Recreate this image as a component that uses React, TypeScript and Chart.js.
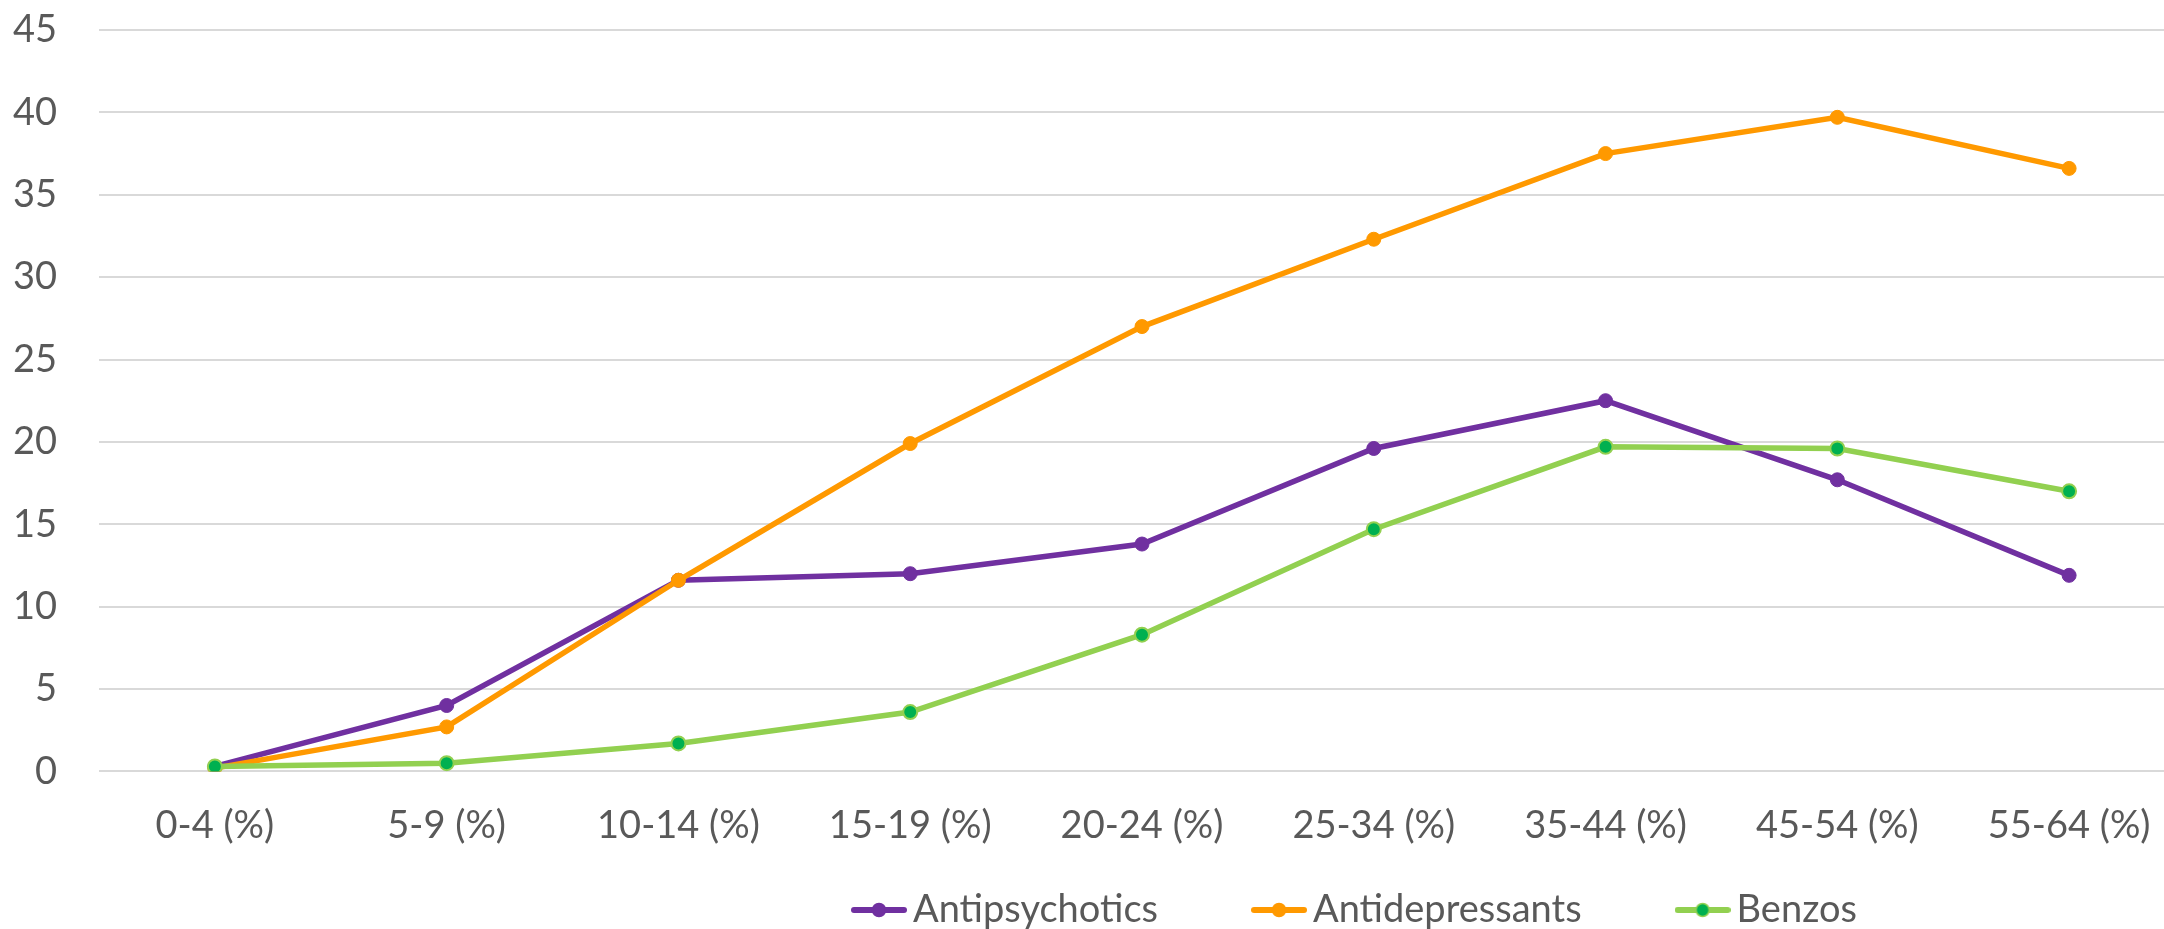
import { useEffect, useRef } from "react";
import { Chart, registerables } from "chart.js";

Chart.register(...registerables);

// Age bands along the x axis
const ageGroups = [
  "0-4 (%)",
  "5-9 (%)",
  "10-14 (%)",
  "15-19 (%)",
  "20-24 (%)",
  "25-34 (%)",
  "35-44 (%)",
  "45-54 (%)",
  "55-64 (%)",
];

// Share of each age band using each drug class (%)
const antipsychotics = [0.3, 4.0, 11.6, 12.0, 13.8, 19.6, 22.5, 17.7, 11.9];
const antidepressants = [0.2, 2.7, 11.6, 19.9, 27.0, 32.3, 37.5, 39.7, 36.6];
const benzos = [0.3, 0.5, 1.7, 3.6, 8.3, 14.7, 19.7, 19.6, 17.0];

// Value axis range
const yMin = 0;
const yMax = 45;
const yStep = 5;

const FONT = "Lato, 'Open Sans', sans-serif";
const TEXT = "#595959";
const PURPLE = "#7030A0";
const ORANGE = "#FF9900";
const LIGHT_GREEN = "#92D050";
const DARK_GREEN = "#00B050";

const CANVAS_W = 2194;
const CANVAS_H = 929;
const AXIS_FONT = 38;
const LEGEND_FONT = 38;
const LEGEND_PADDING = 106;
const LEGEND_LEFT = 758;
const Y_AXIS_WIDTH = 99;

// Legend swatch: a short line with a marker dot in the middle
function legendMarker(line: string, fill: string, border: string) {
  const c = document.createElement("canvas");
  c.width = 56;
  c.height = 16;
  const ctx = c.getContext("2d")!;
  ctx.strokeStyle = line;
  ctx.lineWidth = 6;
  ctx.lineCap = "round";
  ctx.beginPath();
  ctx.moveTo(3, 8);
  ctx.lineTo(53, 8);
  ctx.stroke();
  ctx.beginPath();
  ctx.arc(28, 8, 6.5, 0, Math.PI * 2);
  ctx.fillStyle = fill;
  ctx.fill();
  ctx.lineWidth = 1.5;
  ctx.strokeStyle = border;
  ctx.stroke();
  return c;
}

// Places the legend row below the category labels
const legendPlacement = {
  id: "legendPlacement",
  afterLayout(chart: any) {
    const lg = chart.legend;
    if (!lg) return;
    const w = lg.right - lg.left;
    lg.left = LEGEND_LEFT;
    lg.right = LEGEND_LEFT + w;
    lg.top = chart.height - LEGEND_FONT / 2 - 19 - LEGEND_PADDING;
    lg.bottom = chart.height;
    lg.height = lg.bottom - lg.top;
  },
};

export default function App() {
  const canvasRef = useRef<HTMLCanvasElement | null>(null);

  useEffect(() => {
    if (!canvasRef.current) return;
    const markers = [
      legendMarker(PURPLE, PURPLE, PURPLE),
      legendMarker(ORANGE, ORANGE, ORANGE),
      legendMarker(LIGHT_GREEN, DARK_GREEN, LIGHT_GREEN),
    ];

    const chart = new Chart(canvasRef.current, {
      type: "line",
      data: {
        labels: ageGroups,
        datasets: [
          {
            label: "Antipsychotics",
            data: antipsychotics,
            borderColor: PURPLE,
            backgroundColor: PURPLE,
            pointBackgroundColor: PURPLE,
            pointBorderColor: PURPLE,
            borderWidth: 5.5,
            pointRadius: 7,
            pointBorderWidth: 1,
            order: 2,
          },
          {
            label: "Antidepressants",
            data: antidepressants,
            borderColor: ORANGE,
            backgroundColor: ORANGE,
            pointBackgroundColor: ORANGE,
            pointBorderColor: ORANGE,
            borderWidth: 5.5,
            pointRadius: 7,
            pointBorderWidth: 1,
            order: 1,
          },
          {
            label: "Benzos",
            data: benzos,
            borderColor: LIGHT_GREEN,
            backgroundColor: DARK_GREEN,
            pointBackgroundColor: DARK_GREEN,
            pointBorderColor: LIGHT_GREEN,
            borderWidth: 5.5,
            pointRadius: 7,
            pointBorderWidth: 2,
            order: 0,
          },
        ],
      },
      options: {
        animation: false,
        responsive: false,
        events: [],
        layout: { padding: { top: 30, left: 0, right: 0, bottom: 0 } },
        elements: { line: { tension: 0 } },
        scales: {
          x: {
            offset: true,
            grid: { display: false, drawTicks: false },
            border: { display: false },
            ticks: {
              font: { family: FONT, size: AXIS_FONT },
              color: TEXT,
              padding: 32,
              maxRotation: 0,
              autoSkip: false,
            },
            afterFit: (s: any) => {
              s.paddingLeft = 0;
              s.paddingRight = 0;
            },
          },
          y: {
            min: yMin,
            max: yMax,
            grid: { color: "#d9d9d9", lineWidth: 2, drawTicks: false },
            border: { display: false },
            ticks: {
              stepSize: yStep,
              font: { family: FONT, size: AXIS_FONT },
              color: TEXT,
              padding: 42,
            },
            afterFit: (s: any) => {
              s.width = Y_AXIS_WIDTH;
              s.paddingTop = 0;
              s.paddingBottom = 0;
            },
          },
        },
        plugins: {
          tooltip: { enabled: false },
          legend: {
            position: "bottom",
            align: "start",
            maxHeight: 48,
            labels: {
              usePointStyle: true,
              pointStyleWidth: 30,
              padding: LEGEND_PADDING,
              color: TEXT,
              font: { family: FONT, size: LEGEND_FONT },
              generateLabels: (c: any) =>
                c.data.datasets.map((ds: any, i: number) => ({
                  text: ds.label,
                  pointStyle: markers[i],
                  datasetIndex: i,
                  fillStyle: "transparent",
                  strokeStyle: "transparent",
                  lineWidth: 0,
                  hidden: false,
                  fontColor: TEXT,
                })),
            },
          },
        },
      },
      plugins: [legendPlacement],
    });

    return () => chart.destroy();
  }, []);

  return (
    <div
      style={{
        position: "fixed",
        left: 0,
        top: 0,
        width: CANVAS_W,
        height: CANVAS_H,
        background: "#fff",
      }}
    >
      <canvas ref={canvasRef} width={CANVAS_W} height={CANVAS_H} />
    </div>
  );
}
